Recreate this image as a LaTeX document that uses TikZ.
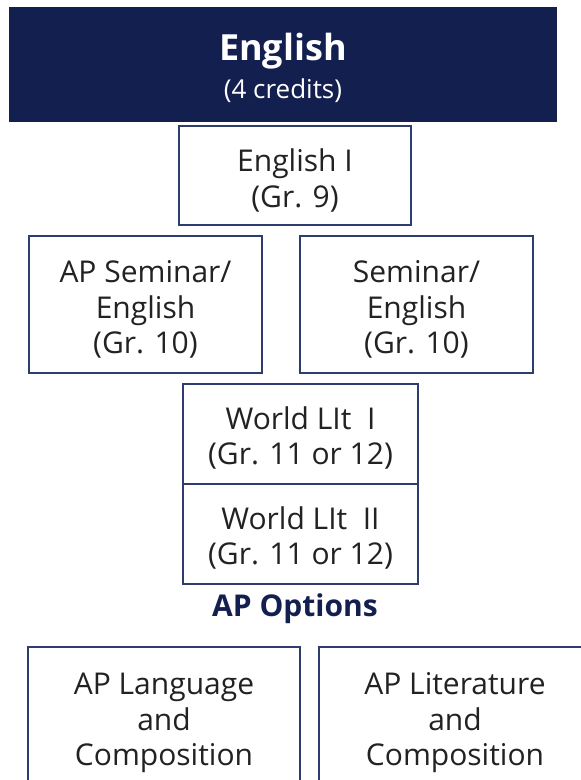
\documentclass[tikz,border=0pt]{standalone}
\usepackage{fontspec}
\setmainfont{Open Sans}
\definecolor{navy}{HTML}{13204F}
\definecolor{edge}{HTML}{2E3D6E}
\definecolor{txt}{HTML}{222222}
\begin{document}
\begin{tikzpicture}[x=1pt,y=-1pt,
  box/.style={draw=edge, line width=1.8pt, fill=white, inner sep=0pt},
  boxtext/.style={align=center, text=txt, font=\fontsize{30}{35.5}\selectfont, inner sep=0pt},
  header/.style={fill=navy, inner sep=0pt},
  headtext/.style={align=center, text=white, font=\fontsize{26}{38}\selectfont, inner sep=0pt},
  aptitle/.style={text=navy, font=\fontsize{30}{32}\selectfont\bfseries, inner sep=0pt}]
\useasboundingbox (0,0) rectangle (581,780);
\clip (0,0) rectangle (581,780);
% header
\node[header, minimum width=548pt, minimum height=115pt] (head) at (283,64.5) {};
\node[headtext] (headt) at ([yshift=-3pt]head.center)
  {{\fontsize{36}{40}\selectfont\bfseries English}\\{(4 credits)}};
% course boxes
\node[box, minimum width=232pt, minimum height=99pt] (eng1) at (295,175.5) {};
\node[boxtext] (eng1t) at ([yshift=-5pt]eng1.center) {English I\\(Gr. 9)};
\node[box, minimum width=233pt, minimum height=137pt] (apsem) at (145.5,304.5) {};
\node[boxtext] (apsemt) at ([yshift=-5pt]apsem.center) {AP Seminar/\\English\\(Gr. 10)};
\node[box, minimum width=233pt, minimum height=137pt] (sem) at (416.5,304.5) {};
\node[boxtext] (semt) at ([yshift=-5pt]sem.center) {Seminar/\\English\\(Gr. 10)};
\node[box, minimum width=235pt, minimum height=100pt] (wl1) at (300.5,434) {};
\node[boxtext] (wl1t) at ([yshift=-4pt]wl1.center) {World LIt\ \ I\\(Gr. 11 or 12)};
\node[box, minimum width=235pt, minimum height=100pt] (wl2) at (300.5,534) {};
\node[boxtext] (wl2t) at ([yshift=-4pt]wl2.center) {World LIt\ \ II\\(Gr. 11 or 12)};
\node[aptitle] (apopt) at (295,609) {AP Options};
\node[box, minimum width=272pt, minimum height=142pt] (aplang) at (164,718) {};
\node[boxtext] (aplangt) at ([yshift=-5pt]aplang.center) {AP Language\\and\\Composition};
\node[box, minimum width=272pt, minimum height=142pt] (aplit) at (455,718) {};
\node[boxtext] (aplitt) at ([yshift=-5pt]aplit.center) {AP Literature\\and\\Composition};
\end{tikzpicture}
\end{document}
